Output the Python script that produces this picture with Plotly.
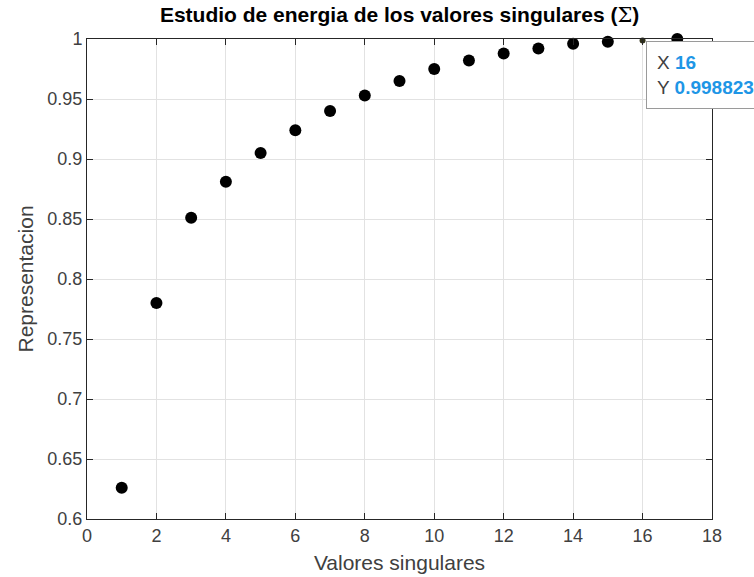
import plotly.graph_objects as go

# Data
indices = list(range(1, 18))
representacion = [0.626, 0.780, 0.851, 0.881, 0.905, 0.924, 0.940, 0.953, 0.965,
                  0.975, 0.982, 0.988, 0.992, 0.996, 0.9978, 0.998823, 1.0]
x_ticks = [0, 2, 4, 6, 8, 10, 12, 14, 16, 18]
y_ticks = [0.6, 0.65, 0.7, 0.75, 0.8, 0.85, 0.9, 0.95, 1]
tip_index = 16

title_text = "<b>Estudio de energia de los valores singulares (</b><span style='font-family:DejaVu Serif'>Σ</span><b>)</b>"
xlabel = "Valores singulares"
ylabel = "Representacion"

FONT = "Liberation Sans, Arial, Helvetica"
tip_pos = indices.index(tip_index)
sizes = [12 if x != tip_index else 6 for x in indices]
colors = ["#000000" if x != tip_index else "#30301a" for x in indices]

fig = go.Figure()
fig.add_trace(go.Scatter(
    x=indices, y=representacion, mode="markers",
    marker=dict(size=sizes, color=colors, opacity=1, line=dict(width=0)),
    cliponaxis=False, hoverinfo="skip", showlegend=False,
))

axis_common = dict(
    showline=True, linecolor="#262626", linewidth=1, mirror="ticks",
    ticks="inside", ticklen=6, tickcolor="#262626",
    showgrid=True, gridcolor="#e2e2e2", gridwidth=1, zeroline=False,
    tickfont=dict(family=FONT, size=18, color="#404040"),
    automargin=False,
)

fig.update_xaxes(range=[0, 18], tickvals=x_ticks, ticktext=[str(t) for t in x_ticks],
                 title=dict(text=xlabel, standoff=10,
                            font=dict(family=FONT, size=21, color="#404040")),
                 **axis_common)
fig.update_yaxes(range=[0.6, 1], tickvals=y_ticks, ticktext=[f"{t:g}" for t in y_ticks],
                 title=dict(text=ylabel, standoff=8,
                            font=dict(family=FONT, size=21, color="#404040")),
                 **axis_common)

tip_text = (f"X <b><span style='color:#1e96e6'>{indices[tip_pos]}</span></b><br>"
            f"Y <b><span style='color:#1e96e6'>{representacion[tip_pos]:.6f}</span></b>")
fig.add_annotation(
    x=tip_index, y=representacion[tip_pos], xref="x", yref="y",
    text=tip_text, showarrow=False, align="left",
    xanchor="left", yanchor="top", xshift=3, yshift=-1,
    font=dict(family=FONT, size=19, color="#404040"),
    bgcolor="white", bordercolor="#9a9a9a", borderwidth=1, borderpad=10,
)

fig.update_layout(
    width=754, height=577,
    margin=dict(l=87, r=42, t=39, b=58, autoexpand=False),
    paper_bgcolor="white", plot_bgcolor="white",
    title=dict(text=title_text, x=0.53, xanchor="center", y=0.975, yanchor="middle",
               font=dict(family=FONT, size=21, color="black")),
)

fig.write_html("out.html")
